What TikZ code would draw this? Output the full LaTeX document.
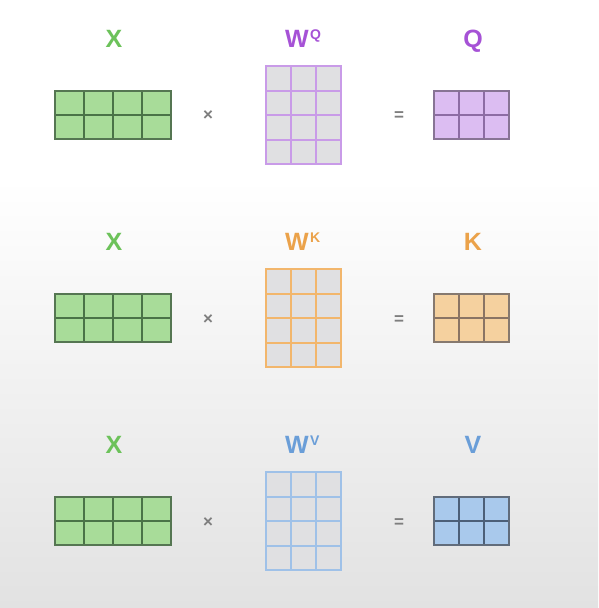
\documentclass[tikz,border=0pt]{standalone}
\usepackage{fontspec}
\setmainfont{Liberation Sans}
\begin{document}
\begin{tikzpicture}[x=1pt,y=-1pt,
  lbl/.style={font=\fontsize{25}{25}\selectfont\bfseries, inner sep=0pt, anchor=base},
  sup/.style={font=\fontsize{14}{14}\selectfont\bfseries, inner sep=0pt, anchor=base west},
  op/.style={font=\fontsize{17}{17}\selectfont\bfseries, text=opgray, inner sep=0pt}
]
\definecolor{opgray}{HTML}{7E7E7E}
\definecolor{xfill}{HTML}{A8DC99}
\definecolor{xline}{HTML}{4A7347}
\definecolor{xlab}{HTML}{6CC25A}
\definecolor{wcell}{HTML}{E0E0E2}
\definecolor{qline}{HTML}{C99BE8}
\definecolor{qlab}{HTML}{A652D6}
\definecolor{qfill}{HTML}{DCBDF2}
\definecolor{qdark}{HTML}{8D6CA4}
\definecolor{kline}{HTML}{F2B66C}
\definecolor{klab}{HTML}{EBA24A}
\definecolor{kfill}{HTML}{F5D19F}
\definecolor{kdark}{HTML}{8A7464}
\definecolor{vline}{HTML}{9FC1E8}
\definecolor{vlab}{HTML}{6A9ED8}
\definecolor{vfill}{HTML}{A9C9EC}
\definecolor{vdark}{HTML}{4C5F78}
\definecolor{bgbot}{HTML}{E2E2E2}
% background
\useasboundingbox (0,0) rectangle (598,608);
\fill[white] (0,0) rectangle (598,180);
\shade[top color=white,bottom color=bgbot] (0,179) rectangle (598,608);
\foreach \dy/\wline/\ofill/\odark in {
  0/qline/qfill/qdark,
  203/kline/kfill/kdark,
  406/vline/vfill/vdark}{
  \begin{scope}[yshift=-\dy pt]
  % X
  \fill[xfill] (55,91) rectangle (171,139);
  \foreach \i in {1,2,3} \draw[xline,line width=1.1pt] (55+\i*29,91) -- (55+\i*29,139);
  \draw[xline,line width=1.1pt] (55,115) -- (171,115);
  \draw[xline!80!gray,line width=1.1pt] (55,91) rectangle (171,139);
  % W
  \fill[wcell] (266,66) rectangle (341,164);
  \foreach \i in {1,2} \draw[\wline,line width=2pt] (266+\i*25,66) -- (266+\i*25,164);
  \foreach \j in {1,2,3} \draw[\wline,line width=2pt] (266,66+\j*24.5) -- (341,66+\j*24.5);
  \draw[\wline,line width=2pt] (266,66) rectangle (341,164);
  % output
  \fill[\ofill] (434,91) rectangle (509,139);
  \foreach \i in {1,2} \draw[\odark,line width=1.1pt] (434+\i*25,91) -- (434+\i*25,139);
  \draw[\odark,line width=1.1pt] (434,115) -- (509,115);
  \draw[\odark!60!gray,line width=1.1pt] (434,91) rectangle (509,139);
  \end{scope}
}
% labels row 1
\node[lbl,text=xlab] (x1) at (114,47) {X};
\node[lbl,text=qlab] (w1) at (297,47) {W};
\node[sup,text=qlab] (w1s) at (310,39) {Q};
\node[lbl,text=qlab] (o1) at (473,47) {Q};
\node[op] (m1) at (208,116) {×};
\node[op] (e1) at (399,116) {=};
% row 2
\node[lbl,text=xlab] (x2) at (114,250) {X};
\node[lbl,text=klab] (w2) at (297,250) {W};
\node[sup,text=klab] (w2s) at (310,242) {K};
\node[lbl,text=klab] (o2) at (473,250) {K};
\node[op] (m2) at (208,320) {×};
\node[op] (e2) at (399,320) {=};
% row 3
\node[lbl,text=xlab] (x3) at (114,453) {X};
\node[lbl,text=vlab] (w3) at (297,453) {W};
\node[sup,text=vlab] (w3s) at (310,445) {V};
\node[lbl,text=vlab] (o3) at (473,453) {V};
\node[op] (m3) at (208,523) {×};
\node[op] (e3) at (399,523) {=};
\end{tikzpicture}
\end{document}
